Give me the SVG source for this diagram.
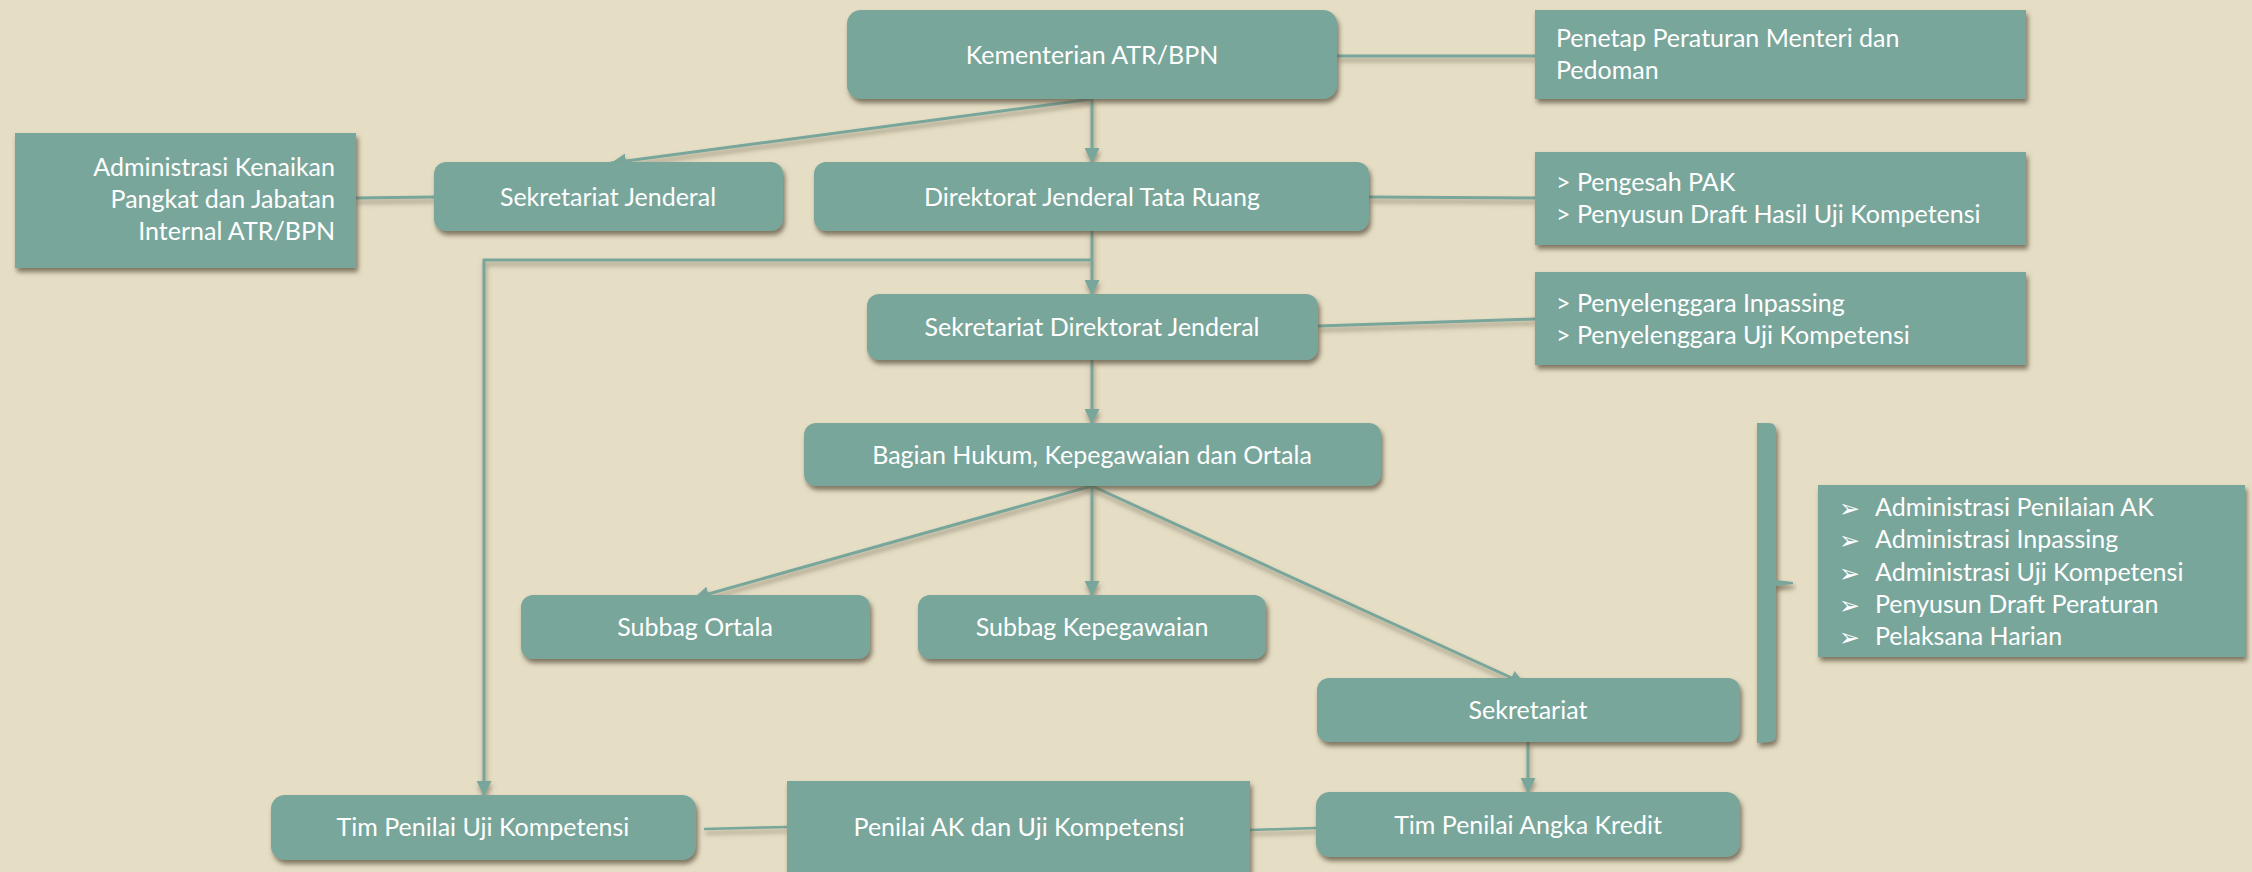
<svg xmlns="http://www.w3.org/2000/svg" width="2252" height="872" viewBox="0 0 2252 872">
<defs>
<filter id="sh" x="-10%" y="-20%" width="120%" height="150%">
<feDropShadow dx="2" dy="4" stdDeviation="2.5" flood-color="#5b4f3d" flood-opacity="0.75"/>
</filter>
<filter id="lsh" x="-5%" y="-5%" width="110%" height="110%" filterUnits="userSpaceOnUse">
<feDropShadow dx="1" dy="4" stdDeviation="2.5" flood-color="#5b4f3d" flood-opacity="0.55"/>
</filter>
<marker id="ah" viewBox="0 0 15 15" markerWidth="15" markerHeight="15" refX="15" refY="7.5" orient="auto" markerUnits="userSpaceOnUse">
<path d="M0,0 L15,7.5 L0,15 Z" fill="#79a69b"/>
</marker>
<style>
.bx{fill:#79a69b;filter:url(#sh);}
.t{font-family:Lato,"Open Sans","Liberation Sans",sans-serif;font-size:25px;fill:#ffffff;}
.c{text-anchor:middle;}
.e{text-anchor:end;}
.bl{font-family:"DejaVu Sans",sans-serif;font-size:25px;fill:#ffffff;}
.ln{fill:none;stroke:#79a69b;stroke-width:3;}
.thin{stroke-width:2.5;}
</style>
</defs>
<rect x="0" y="0" width="2252" height="872" fill="#e5dec5"/>

<g id="connectors" filter="url(#lsh)">
<line class="ln" x1="1337" y1="56" x2="1535" y2="56"/>
<line class="ln" x1="1092" y1="99" x2="1092" y2="163" marker-end="url(#ah)"/>
<line class="ln" x1="1092" y1="99" x2="611" y2="163" marker-end="url(#ah)"/>
<line class="ln" x1="356" y1="198" x2="434" y2="197"/>
<line class="ln" x1="1369" y1="197" x2="1535" y2="198"/>
<line class="ln" x1="1092" y1="231" x2="1092" y2="295" marker-end="url(#ah)"/>
<polyline class="ln" points="1092,260 484,260 484,796" marker-end="url(#ah)"/>
<line class="ln" x1="1318" y1="326" x2="1535" y2="319"/>
<line class="ln" x1="1092" y1="360" x2="1092" y2="424" marker-end="url(#ah)"/>
<line class="ln" x1="1092" y1="486" x2="694" y2="598" marker-end="url(#ah)"/>
<line class="ln" x1="1092" y1="486" x2="1092" y2="596" marker-end="url(#ah)"/>
<line class="ln" x1="1092" y1="486" x2="1525" y2="684" marker-end="url(#ah)"/>
<line class="ln" x1="1528" y1="742" x2="1528" y2="793" marker-end="url(#ah)"/>
<line class="ln thin" x1="704" y1="829" x2="787" y2="827"/>
<line class="ln thin" x1="1250" y1="830" x2="1316" y2="828"/>
</g>

<g id="kementerian">
<rect class="bx" x="847" y="10" width="490" height="89" rx="14"/>
<text class="t c" x="1092" y="64">Kementerian ATR/BPN</text>
</g>
<g id="penetap">
<rect class="bx" x="1535" y="10" width="491" height="89"/>
<text class="t" x="1556" y="47">Penetap Peraturan Menteri dan</text>
<text class="t" x="1556" y="79">Pedoman</text>
</g>
<g id="administrasi-kenaikan">
<rect class="bx" x="15" y="133" width="341" height="135"/>
<text class="t e" x="335" y="176">Administrasi Kenaikan</text>
<text class="t e" x="335" y="208">Pangkat dan Jabatan</text>
<text class="t e" x="335" y="240">Internal ATR/BPN</text>
</g>
<g id="sekretariat-jenderal">
<rect class="bx" x="434" y="162" width="349" height="69" rx="12"/>
<text class="t c" x="608" y="206">Sekretariat Jenderal</text>
</g>
<g id="direktorat-jenderal">
<rect class="bx" x="814" y="162" width="555" height="69" rx="12"/>
<text class="t c" x="1092" y="206">Direktorat Jenderal Tata Ruang</text>
</g>
<g id="pengesah">
<rect class="bx" x="1535" y="152" width="491" height="93"/>
<text class="t" x="1556" y="191">&gt; Pengesah PAK</text>
<text class="t" x="1556" y="223">&gt; Penyusun Draft Hasil Uji Kompetensi</text>
</g>
<g id="sekretariat-direktorat-jenderal">
<rect class="bx" x="867" y="294" width="451" height="66" rx="12"/>
<text class="t c" x="1092" y="336">Sekretariat Direktorat Jenderal</text>
</g>
<g id="penyelenggara">
<rect class="bx" x="1535" y="272" width="491" height="93"/>
<text class="t" x="1556" y="312">&gt; Penyelenggara Inpassing</text>
<text class="t" x="1556" y="344">&gt; Penyelenggara Uji Kompetensi</text>
</g>
<g id="bagian-hukum">
<rect class="bx" x="804" y="423" width="577" height="63" rx="12"/>
<text class="t c" x="1092" y="464">Bagian Hukum, Kepegawaian dan Ortala</text>
</g>
<g id="subbag-ortala">
<rect class="bx" x="521" y="595" width="349" height="64" rx="12"/>
<text class="t c" x="695" y="636">Subbag Ortala</text>
</g>
<g id="subbag-kepegawaian">
<rect class="bx" x="918" y="595" width="348" height="64" rx="12"/>
<text class="t c" x="1092" y="636">Subbag Kepegawaian</text>
</g>
<g id="sekretariat">
<rect class="bx" x="1317" y="678" width="423" height="64" rx="12"/>
<text class="t c" x="1528" y="719">Sekretariat</text>
</g>
<g id="bracket">
<path class="bx" d="M1757,423 L1769,423 Q1776,423 1776,431 L1776,580 L1793,582 L1793,584 L1776,586 L1776,734 Q1776,742 1769,742 L1757,743 Z"/>
</g>
<g id="administrasi-list">
<rect class="bx" x="1818" y="485" width="427" height="172"/>
<text class="bl" x="1839" y="517">➢</text>
<text class="t" x="1875" y="516">Administrasi Penilaian AK</text>
<text class="bl" x="1839" y="549">➢</text>
<text class="t" x="1875" y="548">Administrasi Inpassing</text>
<text class="bl" x="1839" y="582">➢</text>
<text class="t" x="1875" y="581">Administrasi Uji Kompetensi</text>
<text class="bl" x="1839" y="614">➢</text>
<text class="t" x="1875" y="613">Penyusun Draft Peraturan</text>
<text class="bl" x="1839" y="646">➢</text>
<text class="t" x="1875" y="645">Pelaksana Harian</text>
</g>
<g id="tim-penilai-uji">
<rect class="bx" x="271" y="795" width="425" height="65" rx="14"/>
<text class="t c" x="483" y="836">Tim Penilai Uji Kompetensi</text>
</g>
<g id="penilai-ak">
<rect class="bx" x="787" y="781" width="463" height="100"/>
<text class="t c" x="1019" y="836">Penilai AK dan Uji Kompetensi</text>
</g>
<g id="tim-penilai-ak">
<rect class="bx" x="1316" y="792" width="424" height="65" rx="14"/>
<text class="t c" x="1528" y="834">Tim Penilai Angka Kredit</text>
</g>
</svg>
